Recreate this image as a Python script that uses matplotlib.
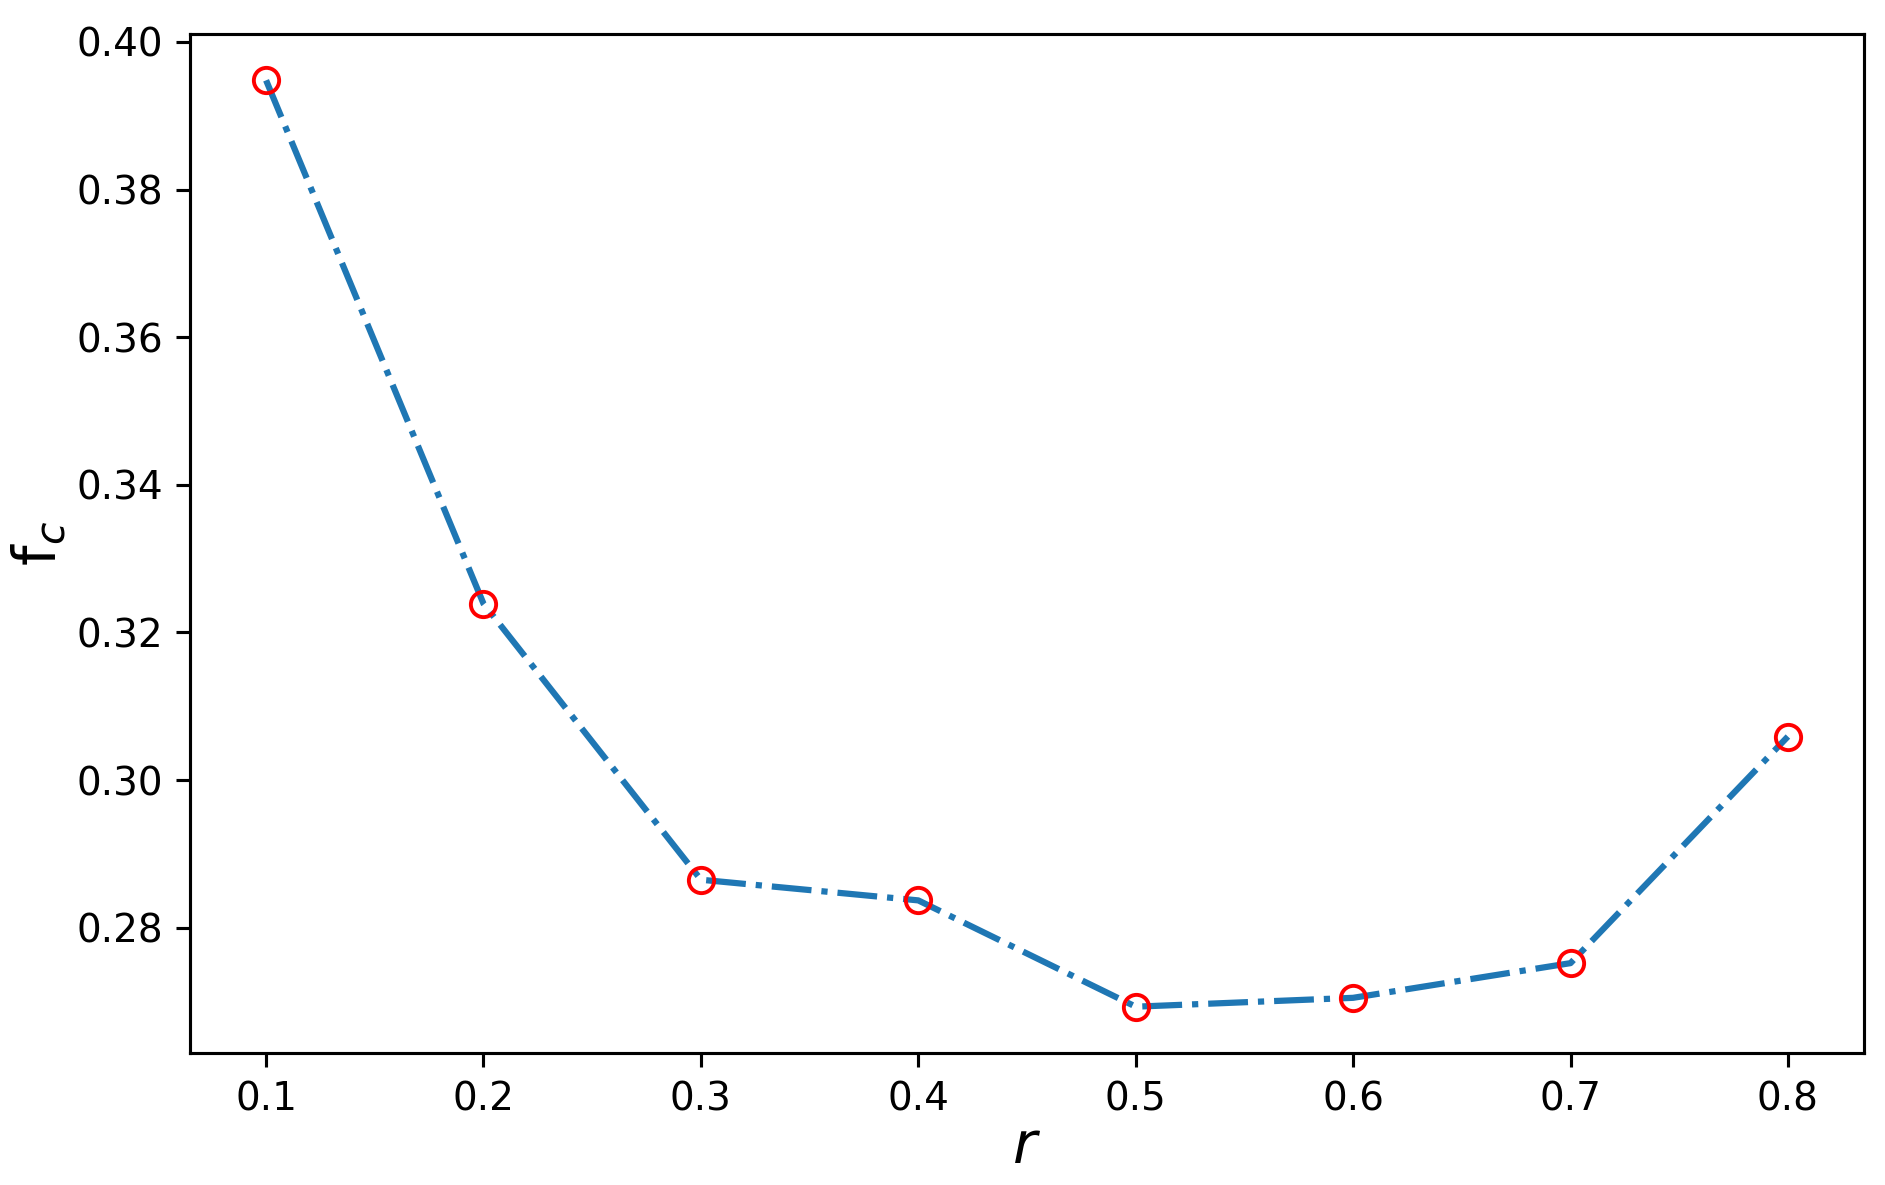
import numpy as np
from matplotlib import pyplot as plt

r = [0.1, 0.2, 0.3, 0.4, 0.5, 0.6, 0.7, 0.8]
fc = [0.3948, 0.3239, 0.2865, 0.2837, 0.2693, 0.2705, 0.2752, 0.3059]

dpi = 280
fig = plt.figure(figsize=(1885 / dpi, 1185 / dpi), dpi=dpi)
ax = fig.add_axes([190 / 1885, 1 - 1053 / 1185, (1864 - 190) / 1885, (1053 - 34) / 1185])

ax.plot(r, fc, linestyle='-.', color='tab:blue', linewidth=1.6)
ax.plot(r, fc, 'o', markerfacecolor='none', markeredgecolor='red', markersize=6.5)

ax.set_xlabel('$r$', fontsize=15, labelpad=0)
ax.set_ylabel('f$_c$', fontsize=15, labelpad=2)

fig.savefig('out.png', dpi=dpi)
